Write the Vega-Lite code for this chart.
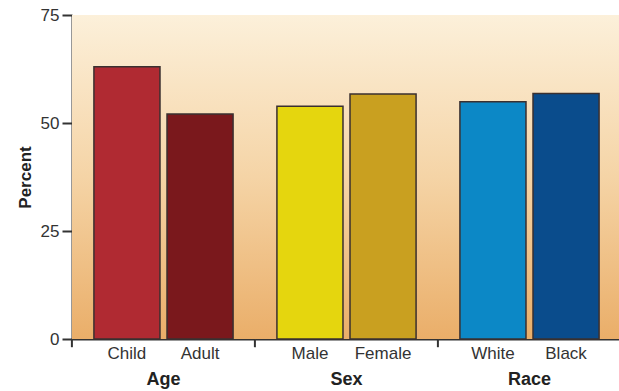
{
  "$schema": "https://vega.github.io/schema/vega-lite/v6.json",
  "padding": {"left": 16, "top": 6, "right": 0, "bottom": 0},
  "background": "white",
  "bounds": "flush",
  "data": {"values": [
    {"group": "Age", "cat": "Child", "pct": 63.0},
    {"group": "Age", "cat": "Adult", "pct": 52.1},
    {"group": "Sex", "cat": "Male", "pct": 53.9},
    {"group": "Sex", "cat": "Female", "pct": 56.7},
    {"group": "Race", "cat": "White", "pct": 54.9},
    {"group": "Race", "cat": "Black", "pct": 56.8}
  ]},
  "facet": {
    "column": {
      "field": "group", "type": "nominal", "sort": ["Age", "Sex", "Race"], "title": null,
      "header": {"labelOrient": "bottom", "labelFontSize": 18, "labelFontWeight": "bold", "labelFont": "Liberation Sans", "labelColor": "#222", "labelPadding": 32}
    }
  },
  "spacing": 0,
  "spec": {
    "width": 183,
    "height": 324,
    "encoding": {
      "x": {"field": "cat", "type": "nominal", "sort": ["Child", "Adult", "Male", "Female", "White", "Black"],
        "scale": {"paddingInner": 0.096, "paddingOuter": 0.3},
        "axis": {"title": null, "labelAngle": 0, "ticks": false, "labelPadding": 6}}
    },
    "layer": [
      {
        "mark": {"type": "rect", "color": {"gradient": "linear", "x1": 0, "y1": 0, "x2": 0, "y2": 1,
          "stops": [{"offset": 0, "color": "#FCF0DA"}, {"offset": 0.5, "color": "#F5D4A6"}, {"offset": 1, "color": "#EAAE69"}]}},
        "encoding": {"x": null, "y": {"datum": 0, "type": "quantitative"}, "y2": {"datum": 75}}
      },
      {
        "mark": {"type": "bar", "stroke": "#3a3030", "strokeWidth": 1.5},
        "encoding": {
          "y": {"field": "pct", "type": "quantitative",
            "scale": {"domain": [0, 75], "nice": false},
            "axis": {"title": "Percent", "values": [0, 25, 50, 75], "grid": false, "tickSize": 10, "labelPadding": 3, "titlePadding": 6}},
          "color": {"field": "cat", "type": "nominal", "legend": null,
            "scale": {"domain": ["Child", "Adult", "Male", "Female", "White", "Black"],
              "range": ["#B02A32", "#7A181C", "#E5D60E", "#C9A020", "#0C88C6", "#0A4C8C"]}}
        }
      },
      {
        "transform": [{"filter": "datum.cat == 'Child' || datum.cat == 'Male' || datum.cat == 'White'"}],
        "mark": {"type": "rule", "color": "#333", "strokeWidth": 2},
        "encoding": {
          "x": {"field": "cat", "type": "nominal", "bandPosition": -0.3333, "sort": ["Child", "Adult", "Male", "Female", "White", "Black"]},
          "y": {"datum": 0, "type": "quantitative"},
          "y2": {"datum": -1.9}
        }
      }
    ]
  },
  "resolve": {"scale": {"x": "independent"}},
  "config": {
    "view": {"stroke": null},
    "font": "Liberation Sans",
    "axis": {
      "labelFont": "Liberation Sans", "labelFontSize": 17, "labelColor": "#333",
      "titleFont": "Liberation Sans", "titleFontSize": 17, "titleFontWeight": "bold", "titleColor": "#222",
      "domainColor": "#333", "domainWidth": 2, "tickColor": "#333", "tickWidth": 2
    }
  }
}
